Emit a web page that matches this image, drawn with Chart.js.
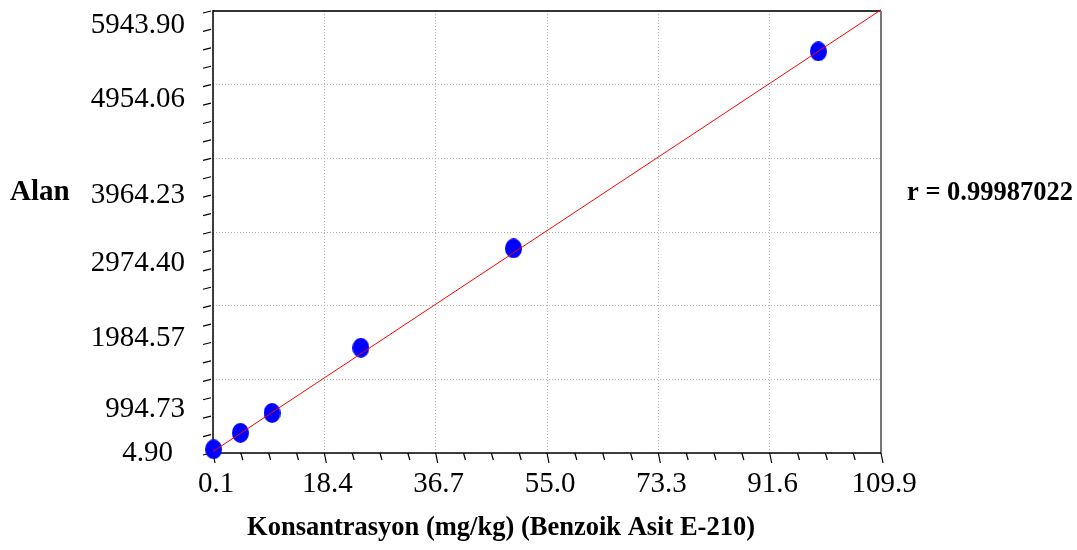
<!DOCTYPE html>
<html>
<head>
<meta charset="utf-8">
<script src="https://cdn.jsdelivr.net/npm/chart.js@4/dist/chart.umd.min.js"></script>
<style>
  html, body { margin: 0; padding: 0; background: #fff; }
  #wrap { width: 1077px; height: 550px; }
</style>
</head>
<body>
<div id="wrap"><canvas id="calib" width="1077" height="550"></canvas></div>
<script>
// calibration points
const concentrations = [0.2, 4.6, 9.8, 24.4, 49.5, 99.6];
const areas = [55, 276, 543, 1419, 2754, 5401];

// fitted line ends
const fitX = [0.1, 109.9];
const fitY = [25, 5960];

const xTicks = [0.1, 18.4, 36.7, 55.0, 73.3, 91.6, 109.9];
const yTicks = [4.90, 994.73, 1984.57, 2974.40, 3964.23, 4954.06, 5943.90];

const yTitle = "Alan";
const xTitle = "Konsantrasyon (mg/kg) (Benzoik Asit E-210)";
const rText = "r = 0.99987022";

const serif = "'Liberation Serif', 'Times New Roman', serif";

// the source software places the y labels a bit unevenly
const yLabelShift = [0, 30, 33, 31, 37, 15, 14];

function ellipseDot(w, h, color) {
  const c = document.createElement("canvas");
  c.width = w;
  c.height = h;
  const g = c.getContext("2d");
  g.fillStyle = color;
  g.beginPath();
  g.ellipse(w / 2, h / 2, w / 2, h / 2, 0, 0, Math.PI * 2);
  g.fill();
  return c;
}

function slant(ctx, x1, y1, x2, y2) {
  ctx.beginPath();
  ctx.moveTo(x1, y1);
  ctx.lineTo(x2, y2);
  ctx.stroke();
}

const axisDecor = {
  id: "axisDecor",
  beforeDatasetsDraw(chart) {
    const { ctx, chartArea: a, scales: { x, y } } = chart;
    ctx.save();

    // frame
    ctx.lineWidth = 2;
    ctx.strokeStyle = "#333";
    slant(ctx, a.left, a.top, a.right, a.top);
    ctx.strokeStyle = "#777";
    slant(ctx, a.right, a.top, a.right, a.bottom);
    ctx.lineWidth = 1.5;
    ctx.strokeStyle = "#000";
    slant(ctx, a.left, a.top - 1, a.left, a.bottom);
    slant(ctx, a.left, a.bottom, a.right, a.bottom);

    // tick marks, 3 minor between majors
    ctx.lineWidth = 1.2;
    for (let i = 0; i < yTicks.length; i++) {
      const py = y.getPixelForValue(yTicks[i]);
      slant(ctx, a.left - 10, py + 2, a.left - 2, py);
      if (i < yTicks.length - 1) {
        const next = y.getPixelForValue(yTicks[i + 1]);
        for (let k = 1; k < 4; k++) {
          const p = py + (next - py) * k / 4;
          slant(ctx, a.left - 10, p + 2, a.left - 2, p);
        }
      }
    }
    for (let i = 0; i < xTicks.length; i++) {
      const px = x.getPixelForValue(xTicks[i]);
      slant(ctx, px, a.bottom, px + 2, a.bottom + 10);
      if (i < xTicks.length - 1) {
        const next = x.getPixelForValue(xTicks[i + 1]);
        for (let k = 1; k < 4; k++) {
          const p = px + (next - px) * k / 4;
          slant(ctx, p, a.bottom, p + 2, a.bottom + 7);
        }
      }
    }
    ctx.restore();
  },
  afterDraw(chart) {
    const { ctx, chartArea: a, scales: { x, y } } = chart;
    ctx.save();
    ctx.fillStyle = "#000";
    ctx.textBaseline = "middle";

    ctx.font = "29px " + serif;
    ctx.textAlign = "right";
    yTicks.forEach((v, i) => {
      const nudgeX = i === 0 ? -12 : 0;
      ctx.fillText(v.toFixed(2), 185 + nudgeX, y.getPixelForValue(v) + yLabelShift[i]);
    });
    ctx.textAlign = "center";
    xTicks.forEach((v) => {
      ctx.fillText(v.toFixed(1), x.getPixelForValue(v) + 3, a.bottom + 31);
    });

    ctx.font = "bold 29px " + serif;
    ctx.textAlign = "left";
    ctx.fillText(yTitle, 10, 193);
    ctx.font = "bold 26.5px " + serif;
    ctx.fillText(rText, 907, 193);
    ctx.textAlign = "center";
    ctx.fillText(xTitle, 501, 528);
    ctx.restore();
  }
};

document.addEventListener("DOMContentLoaded", () => {
  const ctx = document.getElementById("calib").getContext("2d");
  const fitPoints = fitX.map((v, i) => ({ x: v, y: fitY[i] }));
  const samplePoints = concentrations.map((v, i) => ({ x: v, y: areas[i] }));

  new Chart(ctx, {
    type: "scatter",
    data: {
      datasets: [
        {
          data: fitPoints,
          showLine: true,
          borderColor: "#ff0000",
          borderWidth: 1,
          pointRadius: 0,
          clip: false,
          order: 0,
        },
        {
          data: samplePoints,
          pointStyle: ellipseDot(17, 20, "#0000ff"),
          pointRadius: 10,
          clip: false,
          order: 1,
        },
      ],
    },
    options: {
      responsive: false,
      animation: false,
      devicePixelRatio: 1,
      layout: { padding: { left: 213, right: 196, top: 9, bottom: 97 } },
      plugins: { legend: { display: false }, tooltip: { enabled: false } },
      scales: {
        x: {
          type: "linear",
          min: 0.1,
          max: 109.9,
          afterBuildTicks: (s) => { s.ticks = xTicks.map((v) => ({ value: v })); },
          ticks: { display: false },
          grid: { color: "#b4b4b4", lineWidth: 1, drawTicks: false },
          border: { display: false, dash: [1, 2] },
        },
        y: {
          type: "linear",
          min: 4.90,
          max: 5943.90,
          afterBuildTicks: (s) => { s.ticks = yTicks.map((v) => ({ value: v })); },
          ticks: { display: false },
          grid: { color: "#b4b4b4", lineWidth: 1, drawTicks: false },
          border: { display: false, dash: [1, 2] },
        },
      },
    },
    plugins: [axisDecor],
  });
});
</script>
</body>
</html>
